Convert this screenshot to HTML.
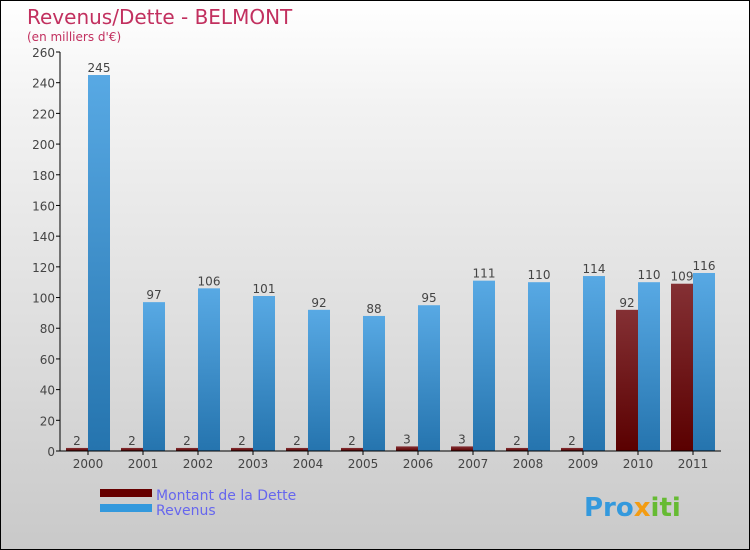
<!DOCTYPE html>
<html><head><meta charset="utf-8"><style>
body{margin:0}
#c{position:relative;width:748px;height:548px;border:1px solid #000;background:linear-gradient(#fff,#f2f2f2 20%,#d9d9d9 70%,#c9c9c9);font-family:"DejaVu Sans","Liberation Sans",sans-serif;overflow:hidden}
</style></head><body>
<div id="c">
<svg width="748" height="548" xmlns="http://www.w3.org/2000/svg" id="s">
<defs>
<linearGradient id="gb" x1="0" y1="0" x2="0" y2="1"><stop offset="0" stop-color="#58a9e4"/><stop offset="1" stop-color="#2574ae"/></linearGradient>
<linearGradient id="gr" x1="0" y1="0" x2="0" y2="1"><stop offset="0" stop-color="#843034"/><stop offset="1" stop-color="#5a0000"/></linearGradient>
</defs>
<text x="26" y="23" font-size="20" fill="#c2305f">Revenus/Dette - BELMONT</text>
<text x="26" y="40" font-size="12" fill="#c2305f">(en milliers d'€)</text>
<g id="plot"></g>
<rect x="99" y="488" width="52" height="8" fill="#600"/>
<rect x="99" y="503" width="52" height="8" fill="#3399dd"/>
<text x="155" y="499" font-size="14" fill="#6666ee">Montant de la Dette</text>
<text x="155" y="514" font-size="14" fill="#6666ee">Revenus</text>
<text x="583" y="515" font-size="26" font-weight="bold" fill="#3399dd">Pro<tspan fill="#f39c12">x</tspan><tspan fill="#66bb33">iti</tspan></text>
</svg>
</div>
<script>
const years=["2000","2001","2002","2003","2004","2005","2006","2007","2008","2009","2010","2011"];
const dette=[2,2,2,2,2,2,3,3,2,2,92,109];
const revenus=[245,97,106,101,92,88,95,111,110,114,110,116];
const yTicks=[0,20,40,60,80,100,120,140,160,180,200,220,240,260];
const X0=59,CW=55,Y0=450,Y1=51,YMAX=260;
const y=v=>Y0-(v/YMAX)*(Y0-Y1);
const xc=i=>X0+i*CW;
const g=document.getElementById('plot');
const NS="http://www.w3.org/2000/svg";
function mk(t,a){const e=document.createElementNS(NS,t);for(const k in a)e.setAttribute(k,a[k]);g.appendChild(e);return e;}
yTicks.forEach(v=>{
 const l=mk('line',{x1:X0-4,x2:X0,y1:y(v),y2:y(v),stroke:'#000'});
 
 
 const t=mk('text',{x:X0-5,y:y(v)+5,'font-size':12,'text-anchor':'end',fill:'#444'});t.textContent=v;
 
 
});
years.forEach((yr,i)=>{
 const b1=mk('rect',{x:xc(i)+6,y:y(dette[i]),width:22,height:Y0-y(dette[i]),fill:'url(#gr)'});
 
 
 const b2=mk('rect',{x:xc(i)+28,y:y(revenus[i]),width:22,height:Y0-y(revenus[i]),fill:'url(#gb)'});
 
 
 const t1=mk('text',{x:xc(i)+17,y:y(dette[i])-3,'font-size':12,'text-anchor':'middle',fill:'#444'});t1.textContent=dette[i];
 
 
 const t2=mk('text',{x:xc(i)+39,y:y(revenus[i])-3,'font-size':12,'text-anchor':'middle',fill:'#444'});t2.textContent=revenus[i];
 
 
 const tk=mk('line',{x1:xc(i)+28,x2:xc(i)+28,y1:Y0,y2:Y0+4,stroke:'#000'});
 
 
 const xl=mk('text',{x:xc(i)+28,y:Y0+17,'font-size':12,'text-anchor':'middle',fill:'#444'});xl.textContent=yr;
 
 
});
const ya=mk('line',{x1:X0,x2:X0,y1:Y1,y2:Y0,stroke:'#000'});


const xa=mk('line',{x1:X0,x2:X0+12*CW+1,y1:Y0,y2:Y0,stroke:'#000'});


</script>
</body></html>
